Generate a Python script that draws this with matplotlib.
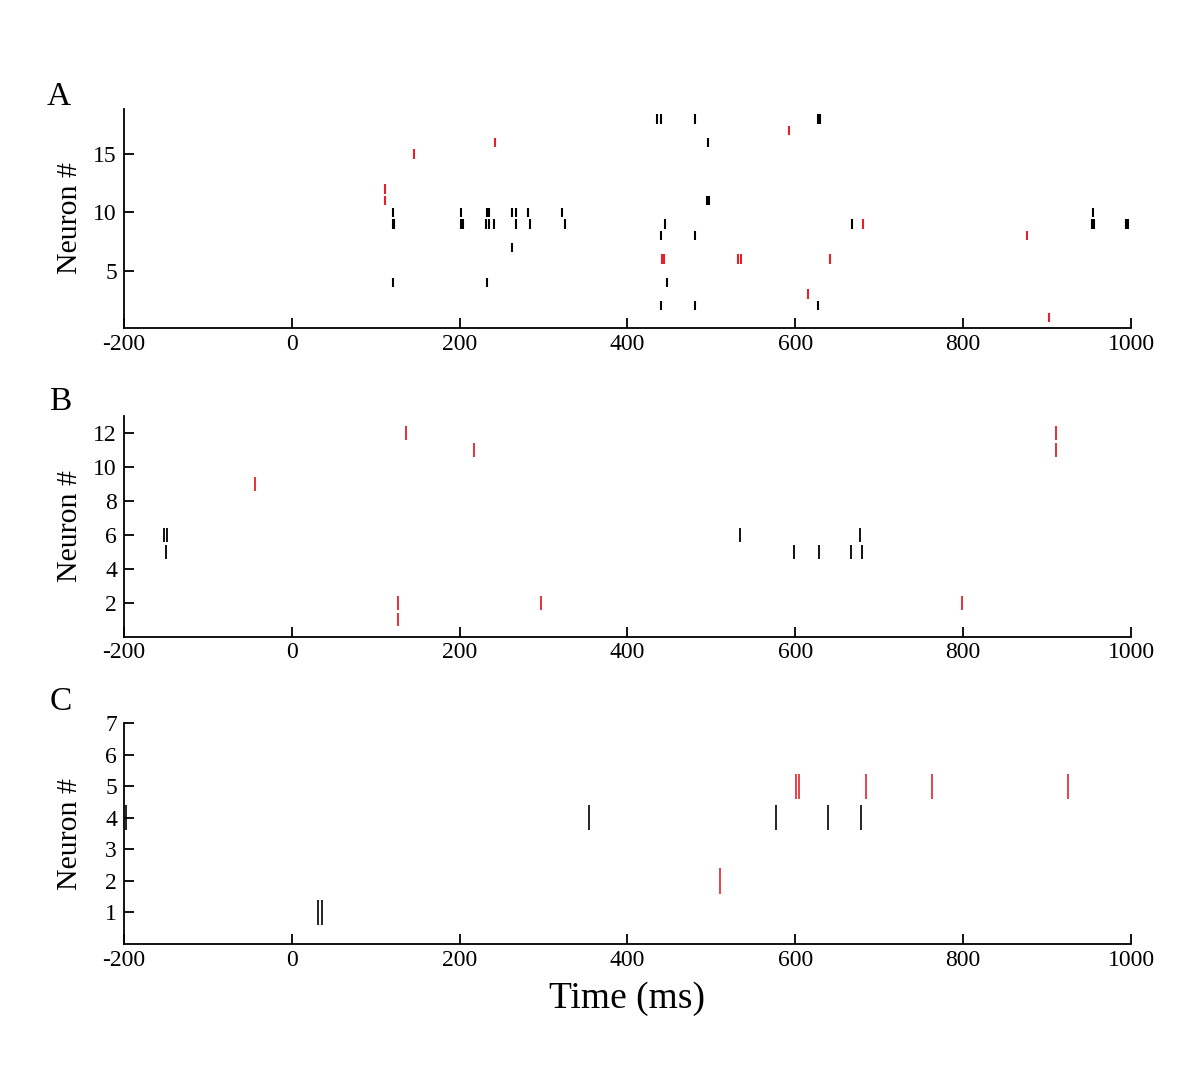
import numpy as np
import matplotlib.pyplot as plt

plt.rcParams['font.family'] = ['Liberation Serif', 'DejaVu Serif']

# panel A - spike times (ms) and neuron ids
a_black_t = [435.5, 440, 480, 627, 629,
             496,
             495, 497,
             121, 202, 233, 235.5, 262, 267.5, 282, 322, 955,
             120, 122, 202, 204.5, 232, 234.5, 240.5, 267.5, 283.5, 325.5, 444.5, 668, 953, 956, 994, 996.5,
             440, 480,
             262.5,
             121, 232.6, 447.5,
             440, 480, 627.5]
a_black_n = [18, 18, 18, 18, 18,
             16,
             11, 11,
             10, 10, 10, 10, 10, 10, 10, 10, 10,
             9, 9, 9, 9, 9, 9, 9, 9, 9, 9, 9, 9, 9, 9, 9, 9,
             8, 8,
             7,
             4, 4, 4,
             2, 2, 2]
a_red_t = [592, 242, 146, 110.5, 110.5, 680.5, 876, 441, 443.5, 532, 535.7, 641, 615.5, 902]
a_red_n = [17, 16, 15, 12, 11, 9, 8, 6, 6, 6, 6, 6, 3, 1]

# panel B
b_black_t = [-152.5, -148.5, 534.5, 677, -150, 599, 628, 666.5, 679]
b_black_n = [6, 6, 6, 6, 5, 5, 5, 5, 5]
b_red_t = [135.5, 911, 217, 911, -44, 126.5, 297.5, 799, 126.5]
b_red_n = [12, 12, 11, 11, 9, 2, 2, 2, 1]

# panel C
c_black_t = [-197.6, 354, 577.5, 639, 678.6, 31, 36]
c_black_n = [4, 4, 4, 4, 4, 1, 1]
c_red_t = [601.4, 604, 684.7, 762.8, 925.2, 510]
c_red_n = [5, 5, 5, 5, 5, 2]

x_ticks = [-200, 0, 200, 400, 600, 800, 1000]

RED = '#e3222b'


def raster(ax, bt, bn, rt, rn, ylim, yticks, lw):
    bn = np.array(bn)
    rn = np.array(rn)
    ax.vlines(bt, bn - 0.4, bn + 0.4, color='black', lw=lw)
    ax.vlines(rt, rn - 0.4, rn + 0.4, color=RED, lw=lw)
    ax.set_xlim(-200, 1000)
    ax.set_ylim(*ylim)
    ax.set_xticks(x_ticks)
    ax.set_xticklabels([str(t) for t in x_ticks])
    ax.set_yticks(yticks)
    for s in ['top', 'right']:
        ax.spines[s].set_visible(False)
    for s in ['left', 'bottom']:
        ax.spines[s].set_linewidth(1.3)
    ax.tick_params(direction='in', length=7, width=1.3, labelsize=17)
    ax.tick_params(axis='x', pad=4)
    ax.tick_params(axis='y', pad=5)
    ax.set_ylabel('Neuron #', fontsize=21.5)
    # same label column for all three panels
    ax.yaxis.set_label_coords(-0.041, 0.5)


fig = plt.figure(figsize=(12, 10.67), dpi=100)

axA = fig.add_axes([0.1033, 0.6926, 0.8392, 0.2052])
raster(axA, a_black_t, a_black_n, a_red_t, a_red_n, (0.1, 18.85), [5, 10, 15], 1.5)

axB = fig.add_axes([0.1033, 0.4033, 0.8392, 0.2068])
raster(axB, b_black_t, b_black_n, b_red_t, b_red_n, (0, 13), [2, 4, 6, 8, 10, 12], 1.3)

axC = fig.add_axes([0.1033, 0.1153, 0.8392, 0.2068])
raster(axC, c_black_t, c_black_n, c_red_t, c_red_n, (0, 7), [1, 2, 3, 4, 5, 6, 7], 1.2)
axC.set_xlabel('Time (ms)', fontsize=27, labelpad=8)

fig.text(0.039, 0.9016, 'A', fontsize=24)
fig.text(0.041, 0.6157, 'B', fontsize=24)
fig.text(0.041, 0.3346, 'C', fontsize=24)

fig.savefig('out.png', dpi=100)
